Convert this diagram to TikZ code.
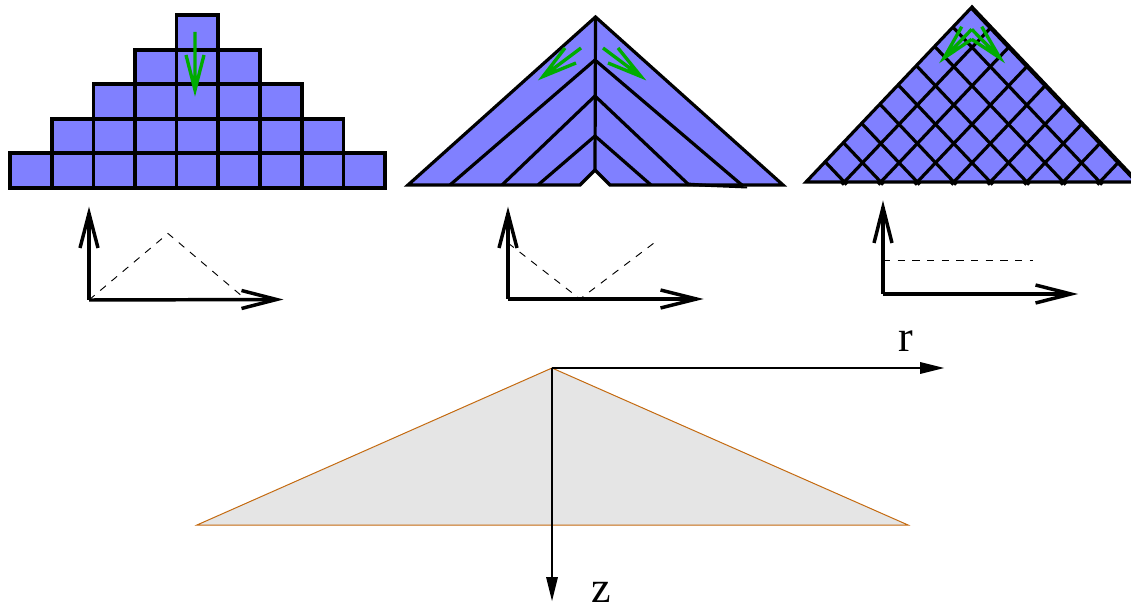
\documentclass[tikz,border=0pt]{standalone}
\usepackage{fontspec}
\setmainfont{Liberation Serif}
\definecolor{pyrblue}{HTML}{8080FF}
\definecolor{arrgreen}{HTML}{00AC00}
\definecolor{sectgray}{HTML}{E5E5E5}
\definecolor{sectorange}{HTML}{C46A10}
\tikzset{
  pyr/.style={draw=black,fill=pyrblue,line width=2.4pt,line join=miter},
  pline/.style={draw=black,line width=2.4pt},
  greenarr/.style={draw=arrgreen,line width=2.5pt,line join=miter,miter limit=20},
  axisline/.style={draw=black,line width=2.6pt,line join=miter,miter limit=20},
  dashline/.style={draw=black,line width=0.7pt,dash pattern=on 5.5pt off 5.5pt},
  section/.style={fill=sectgray,draw=sectorange,line width=0.75pt},
  thinarrow/.style={draw=black,line width=0.95pt},
  arrowhead/.style={fill=black,draw=none},
  lab/.style={font=\fontsize{33}{33}\selectfont,anchor=base,inner sep=0pt}
}
\begin{document}
\begin{tikzpicture}[x=0.75pt,y=-0.75pt]
\useasboundingbox (0,0) rectangle (1131,605);
% --- stepped pyramid
\foreach \xa/\xb/\ya/\yb in {10/385/153/188,52/343.5/119/153,93.5/302/84/119,135/260/50/84,176.5/218/15/50}{
  \path[pyr] (\xa,\ya) rectangle (\xb,\yb);
}
\foreach \xv/\ya in {52/153,93.5/119,135/84,176.5/50,218/50,260/84,302/119,343.5/153}{
  \draw[pline] (\xv,\ya) -- (\xv,188);
}
\foreach \yv/\xa/\xb in {153/52/343.5,119/93.5/302,84/135/260,50/176.5/218}{
  \draw[pline] (\xa,\yv) -- (\xb,\yv);
}
\draw[greenarr] (186,55) -- (195,90) -- (204,55) (195,32) -- (195,90);
% --- chevron pyramid
\path[pyr] (408,185) -- (595.5,17) -- (783,185) -- (610,185) -- (595,170) -- (580,185) -- cycle;
\draw[pline] (595.5,17) -- (595,170);
\draw[pline] (450,185) -- (595,60) -- (743,186);
\draw[pline] (502,185) -- (595,96) -- (688,184);
\draw[pline] (538,185) -- (595,136) -- (651,185);
\fill[black] (687,182.5) -- (747,186.5) -- (747,188.5) -- (687,186) -- cycle;
\draw[greenarr] (565,48) -- (543,76.5) -- (576,63) (581,48) -- (543,76.5);
\draw[greenarr] (618,48) -- (641,76.5) -- (608,63) (603,48) -- (641,76.5);
% --- lattice pyramid
\path[fill=pyrblue] (806,182) -- (972,7) -- (1138,182) -- cycle;
\pgfmathsetmacro{\sl}{1.054}
\foreach \k in {0,...,8}{
  \pgfmathsetmacro{\xk}{844.3+36.5*\k}
  \pgfmathsetmacro{\xe}{(972+\xk)/2-175/(2*\sl)}
  \pgfmathsetmacro{\ye}{182-\sl*(\xk-\xe)}
  \draw[pline] ({\xk+2.5},{182+2.5*\sl}) -- (\xe,\ye);
}
\foreach \k in {0,...,7}{
  \pgfmathsetmacro{\xk}{844.3+36.5*\k}
  \pgfmathsetmacro{\xe}{(972+\xk)/2+175/(2*\sl)}
  \pgfmathsetmacro{\ye}{182-\sl*(\xe-\xk)}
  \draw[pline] ({\xk-2.5},{182+2.5*\sl}) -- (\xe,\ye);
}
\path[pyr,fill=none] (806,182) -- (972,7) -- (1138,182) -- cycle;
\draw[greenarr] (961.7,26.7) -- (944,58) -- (971.7,39.3) (971.7,29.3) -- (944,58);
\draw[greenarr] (981.7,26.7) -- (1000,58) -- (971.7,39.3) (971.7,29.3) -- (1000,58);
% --- small axes 1
\coordinate (oa) at (89,300);
\draw[axisline] (oa) -- (89,213.5);
\draw[axisline] (80,248) -- (89,213.5) -- (98,248);
\draw[axisline] (oa) -- (276.5,299.5);
\draw[axisline] (241.5,290.5) -- (276.5,299.5) -- (241.5,308.5);
\draw[dashline] (oa) -- (168,233.5) -- (243,297);
% --- small axes 2
\coordinate (ob) at (508,299);
\draw[axisline] (ob) -- (508,213.5);
\draw[axisline] (499,248) -- (508,213.5) -- (517,248);
\draw[axisline] (ob) -- (696.5,299);
\draw[axisline] (660.5,290) -- (696.5,299) -- (660.5,308);
\draw[dashline] (508,243) -- (580,299) -- (654,243);
% --- small axes 3
\coordinate (oc) at (883,294);
\draw[axisline] (oc) -- (883,207.5);
\draw[axisline] (874,243) -- (883,207.5) -- (892,243);
\draw[axisline] (oc) -- (1071,294);
\draw[axisline] (1035.5,285) -- (1071,294) -- (1035.5,303);
\draw[dashline] (883,260.5) -- (1033,260.5);
% --- section
\coordinate (apex) at (552,368);
\coordinate (rtip) at (944,368);
\coordinate (ztip) at (552,601);
\path[section] (197,525) -- (apex) -- (908,525) -- cycle;
\draw[thinarrow] (apex) -- (921,368);
\fill[arrowhead] (rtip) -- (920,362) -- (920,374) -- cycle;
\draw[thinarrow] (apex) -- (552,578);
\fill[arrowhead] (ztip) -- (546,577) -- (558,577) -- cycle;
\node[lab] (rlabel) at (905.5,352) {r};
\node[lab] (zlabel) at (601,602.5) {z};
\end{tikzpicture}
\end{document}
